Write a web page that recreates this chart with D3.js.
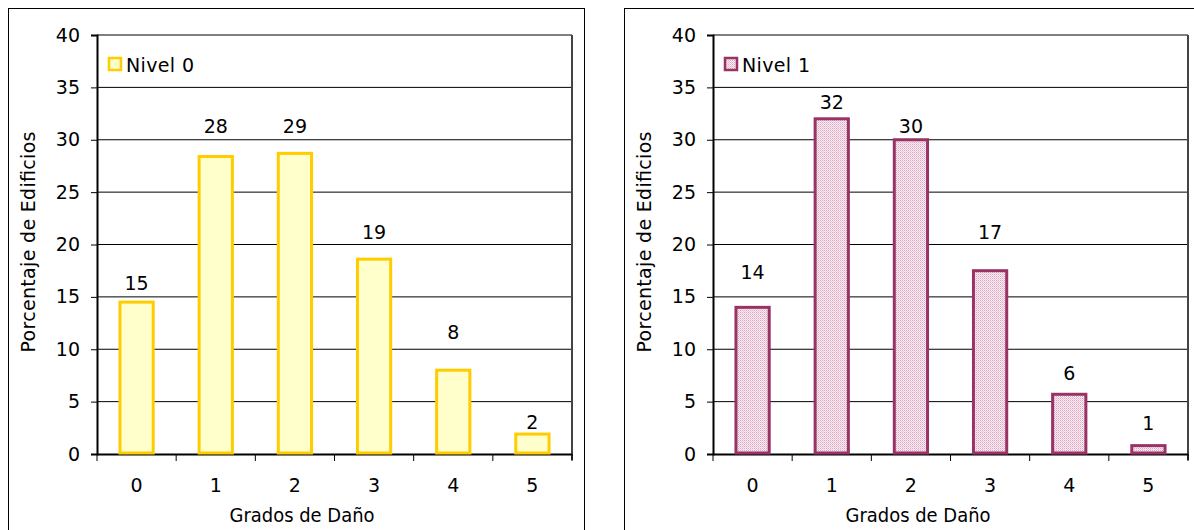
<!DOCTYPE html>
<html><head><meta charset="utf-8">
<script src="https://cdn.jsdelivr.net/npm/d3@7"></script>
<style>body{margin:0;background:#fff}svg{display:block}text{font-family:"DejaVu Sans",Verdana,sans-serif;fill:#000}</style>
</head><body>
<script>
const categories = ["0","1","2","3","4","5"];
const yTicks = [0,5,10,15,20,25,30,35,40];
const nivel0Values = [14.5, 28.4, 28.7, 18.6, 8.0, 1.9];
const nivel0Labels = ["15","28","29","19","8","2"];
const nivel0LabelAt = [16.3, 31.3, 31.3, 21.2, 11.6, 3.1];
const nivel1Values = [14.0, 32.0, 30.0, 17.5, 5.7, 0.8];
const nivel1Labels = ["14","32","30","17","6","1"];
const nivel1LabelAt = [17.4, 33.6, 31.3, 21.2, 7.7, 3.0];
const seriesNames = ["Nivel 0","Nivel 1"];
const xTitle = "Grados de Daño";
const yTitle = "Porcentaje de Edificios";

const W=1194,H=530,FS="19px";
const svg=d3.select("body").append("svg").attr("width",W).attr("height",H);
const defs=svg.append("defs");
const pat=defs.append("pattern").attr("id","dots").attr("patternUnits","userSpaceOnUse").attr("width",2).attr("height",2);
pat.append("rect").attr("width",2).attr("height",2).attr("fill","#fbeef4");
pat.append("rect").attr("width",1).attr("height",1).attr("fill","#d9a6bf");
pat.append("rect").attr("x",1).attr("y",1).attr("width",1).attr("height",1).attr("fill","#e8c6d6");

function panel(opts){
  const g=svg.append("g");
  g.append("rect").attr("x",opts.px+0.5).attr("y",8.5).attr("width",opts.pw).attr("height",H).attr("fill","none").attr("stroke","#000").attr("stroke-width",1);
  const x=d3.scaleBand().domain(categories).range([opts.x0,opts.x1]);
  const y=d3.scaleLinear().domain([0,40]).range([454,35]);
  g.append("g").selectAll("line").data(yTicks.filter(t=>t>0)).join("line")
    .attr("x1",opts.x0).attr("x2",opts.x1).attr("y1",d=>y(d)).attr("y2",d=>y(d))
    .attr("stroke","#000").attr("stroke-width",1);
  g.append("line").attr("x1",opts.x1).attr("x2",opts.x1).attr("y1",y(40)).attr("y2",y(0)+6).attr("stroke","#444").attr("stroke-width",2);
  const ya=g.append("g").attr("transform",`translate(${opts.x0},0)`).call(d3.axisLeft(y).tickValues(yTicks).tickSize(6).tickPadding(11));
  ya.select(".domain").attr("stroke","#000").attr("stroke-width",2);
  ya.selectAll(".tick line").attr("stroke","#000");
  ya.selectAll("text").style("font-size",FS).attr("font-family","DejaVu Sans");
  const xa=g.append("g").attr("transform",`translate(0,${y(0)})`).call(d3.axisBottom(x).tickSize(0));
  xa.select(".domain").attr("stroke","#000").attr("stroke-width",2);
  xa.selectAll("text").style("font-size",FS).attr("font-family","DejaVu Sans").attr("y",31).attr("dy","0.35em");
  const bounds=categories.map(c=>x(c)).concat([opts.x1]);
  g.append("g").selectAll("line").data(bounds).join("line")
    .attr("x1",d=>d).attr("x2",d=>d).attr("y1",y(0)).attr("y2",y(0)+7).attr("stroke","#000").attr("stroke-width",1);
  const bw=x.bandwidth()*0.42;
  g.append("g").selectAll("rect").data(opts.values).join("rect")
    .attr("x",(d,i)=>x(categories[i])+x.bandwidth()/2-bw/2).attr("width",bw)
    .attr("y",d=>y(d)).attr("height",d=>y(0)-y(d)-1)
    .attr("fill",opts.fill).attr("stroke",opts.stroke).attr("stroke-width",3);
  g.append("g").selectAll("text").data(opts.labels).join("text")
    .attr("x",(d,i)=>x(categories[i])+x.bandwidth()/2).attr("y",(d,i)=>y(opts.labelAt[i]))
    .attr("text-anchor","middle").attr("dominant-baseline","central").style("font-size",FS).text(d=>d);
  g.append("rect").attr("x",opts.x0+12).attr("y",58).attr("width",12).attr("height",12)
    .attr("fill",opts.fill).attr("stroke",opts.stroke).attr("stroke-width",2.5);
  g.append("text").attr("x",opts.x0+29).attr("y",65).attr("dominant-baseline","central").style("font-size",FS)
    .attr("textLength",68).attr("lengthAdjust","spacing").text(opts.name);
  g.append("text").attr("x",opts.x0+205).attr("y",515).attr("text-anchor","middle").attr("dominant-baseline","central").style("font-size",FS)
    .attr("textLength",145).attr("lengthAdjust","spacingAndGlyphs").text(xTitle);
  g.append("text").attr("transform",`translate(${opts.px+20},242) rotate(-90)`).attr("text-anchor","middle").attr("dominant-baseline","central").style("font-size",FS)
    .attr("textLength",221).attr("lengthAdjust","spacing").text(yTitle);
}
panel({px:8,pw:576,x0:97,x1:572,values:nivel0Values,labels:nivel0Labels,labelAt:nivel0LabelAt,fill:"#ffffcc",stroke:"#ffcc00",name:seriesNames[0]});
panel({px:624,pw:600,x0:713,x1:1188,values:nivel1Values,labels:nivel1Labels,labelAt:nivel1LabelAt,fill:"url(#dots)",stroke:"#993366",name:seriesNames[1]});
</script>
</body></html>
